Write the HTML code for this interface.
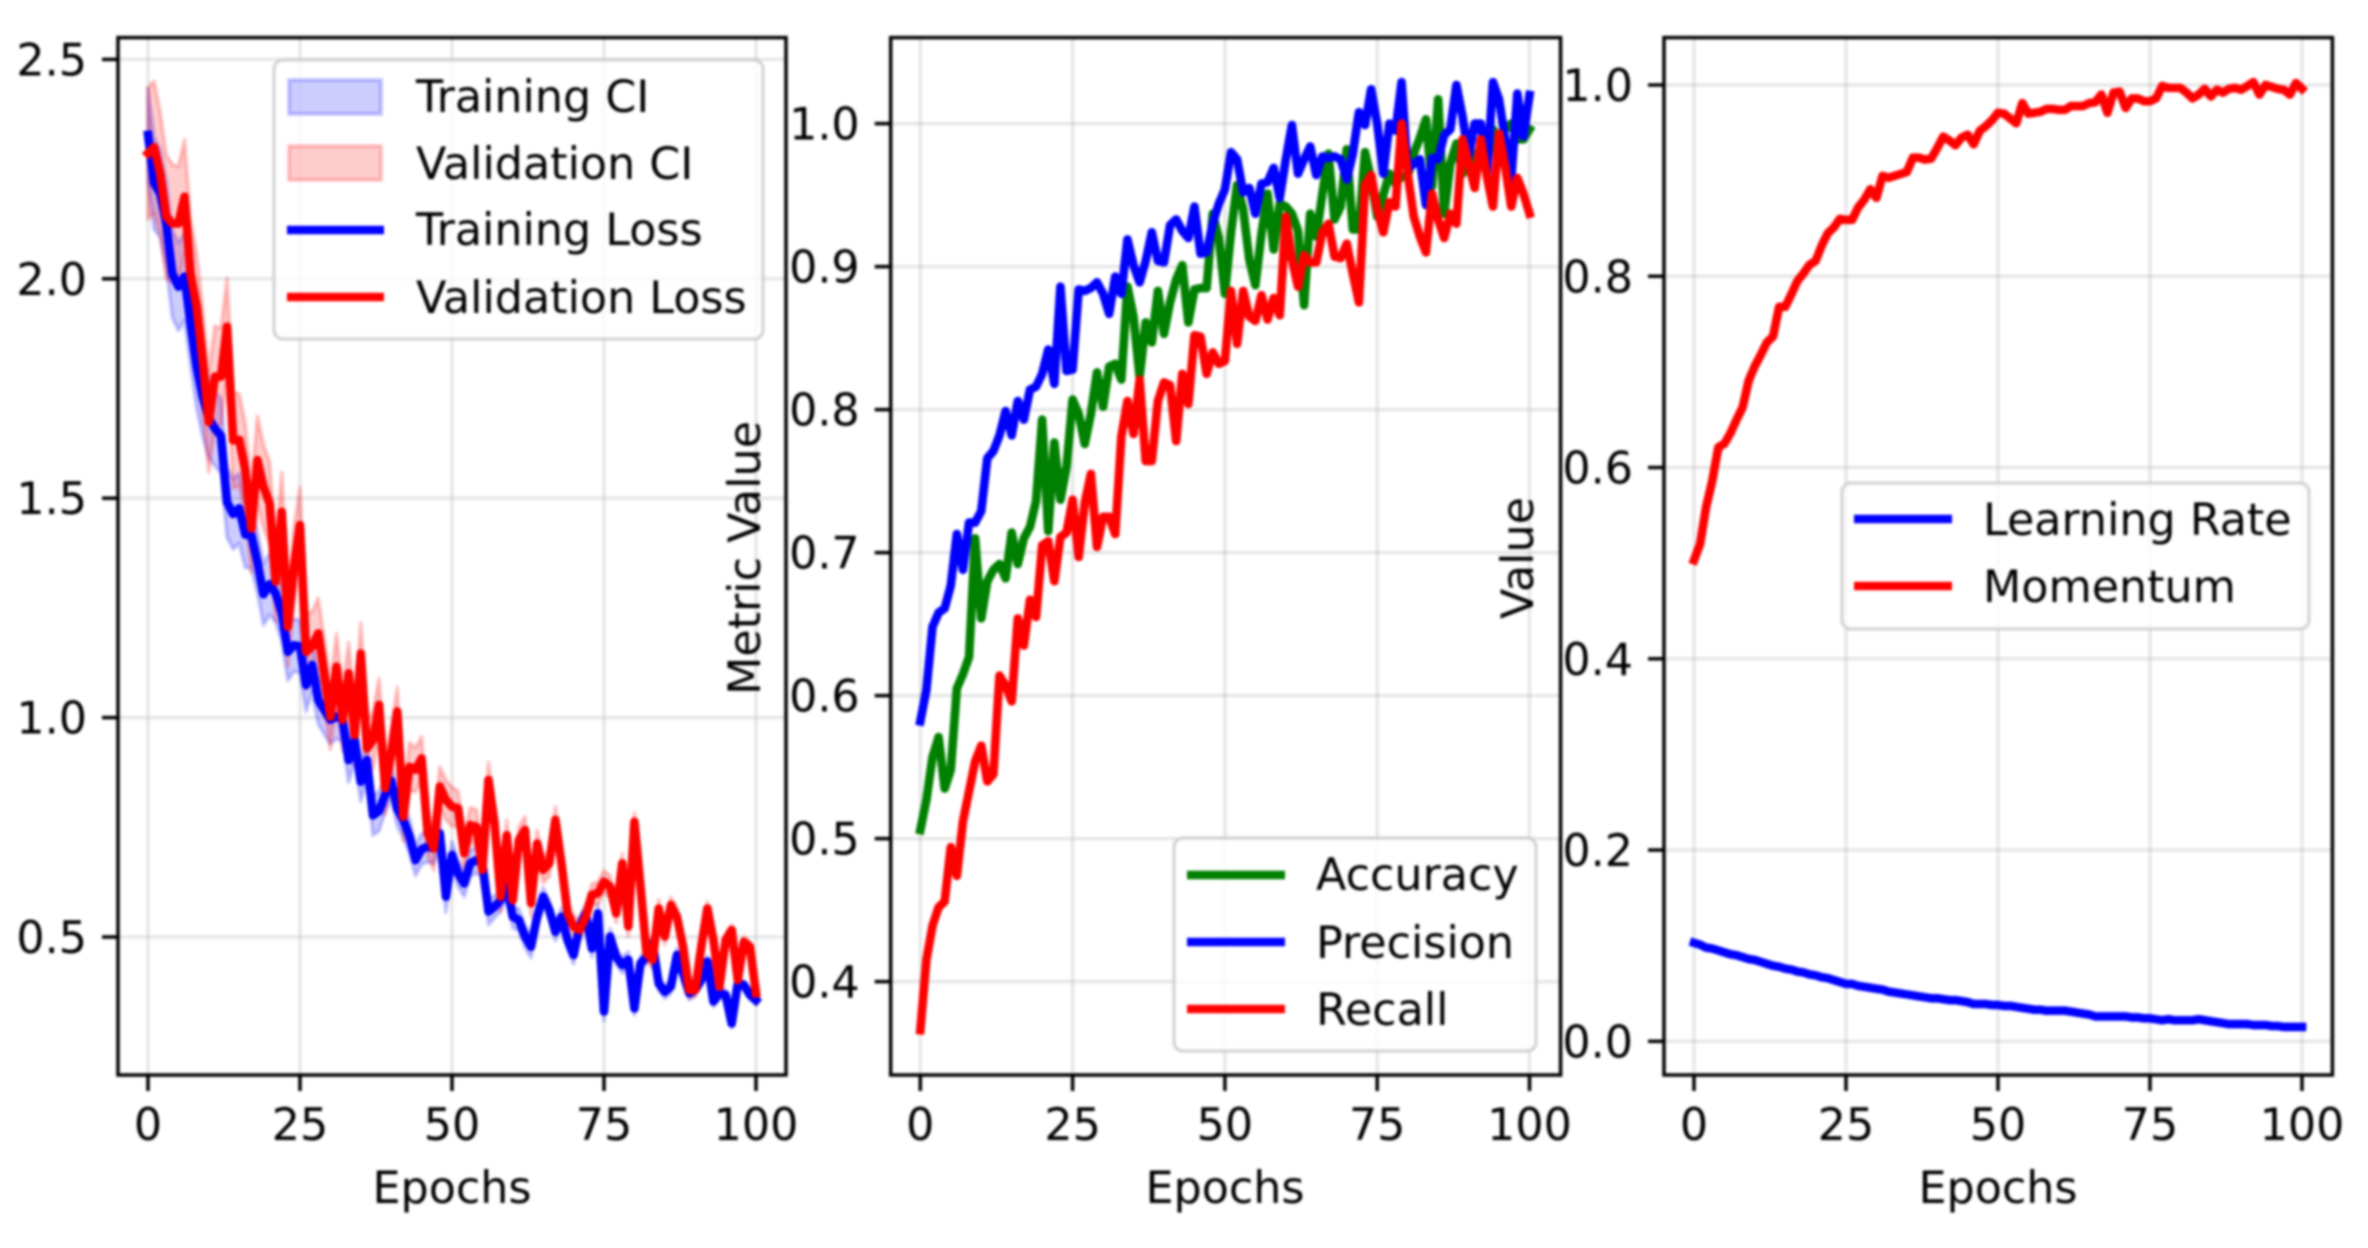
<!DOCTYPE html>
<html lang="en">
<head>
<meta charset="utf-8">
<title>Training metrics</title>
<style>
html,body{margin:0;padding:0;background:#fff;width:2368px;height:1248px;overflow:hidden}
svg{display:block;filter:blur(1.4px)}
text{font-family:"DejaVu Sans","Liberation Sans",sans-serif;font-size:44.4px;fill:#000}
.frame{fill:none;stroke:#000;stroke-width:3.5}
.legend-box{fill:#fff;fill-opacity:.8;stroke:#ccc;stroke-opacity:.8;stroke-width:3.5}
.key{stroke-width:8.6;fill:none}
</style>
</head>
<body>
<svg id="chart" xmlns="http://www.w3.org/2000/svg" width="2368" height="1248" viewBox="0 0 2368 1248">
  <rect width="2368" height="1248" fill="#fff"/>

  <g id="panel-loss"></g>
  <g id="panel-metrics"></g>
  <g id="panel-schedule"></g>

  <g>
    <rect class="legend-box" x="274" y="60" width="489" height="279" rx="9"/>
    <rect x="289" y="80" width="92" height="34" fill="#00f" fill-opacity=".2" stroke="#00f" stroke-opacity=".2" stroke-width="4"/>
    <text x="416" y="112">Training CI</text>
    <rect x="289" y="146" width="92" height="34" fill="#f00" fill-opacity=".2" stroke="#f00" stroke-opacity=".2" stroke-width="4"/>
    <text x="416" y="179">Validation CI</text>
    <line class="key" x1="287" y1="230" x2="384" y2="230" stroke="#00f"/>
    <text x="416" y="245">Training Loss</text>
    <line class="key" x1="287" y1="297" x2="384" y2="297" stroke="#f00"/>
    <text x="416" y="313">Validation Loss</text>
  </g>

  <g>
    <rect class="legend-box" x="1174" y="838" width="362" height="213" rx="9"/>
    <line class="key" x1="1187" y1="875" x2="1285" y2="875" stroke="#008000"/>
    <text x="1316" y="890">Accuracy</text>
    <line class="key" x1="1187" y1="942" x2="1285" y2="942" stroke="#00f"/>
    <text x="1316" y="958">Precision</text>
    <line class="key" x1="1187" y1="1009" x2="1285" y2="1009" stroke="#f00"/>
    <text x="1316" y="1025">Recall</text>
  </g>

  <g>
    <rect class="legend-box" x="1842" y="483" width="467" height="146" rx="9"/>
    <line class="key" x1="1854" y1="519" x2="1952" y2="519" stroke="#00f"/>
    <text x="1983" y="535">Learning Rate</text>
    <line class="key" x1="1854" y1="586" x2="1952" y2="586" stroke="#f00"/>
    <text x="1983" y="602">Momentum</text>
  </g>

  <text x="452" y="1203" text-anchor="middle">Epochs</text>
  <text x="1225" y="1203" text-anchor="middle">Epochs</text>
  <text x="1998" y="1203" text-anchor="middle">Epochs</text>
  <text transform="translate(760,558) rotate(-90)" text-anchor="middle">Metric Value</text>
  <text transform="translate(1533,558) rotate(-90)" text-anchor="middle">Value</text>
</svg>

<script>
const epochTicks = [0, 25, 50, 75, 100];
const lossTicks = [0.5, 1.0, 1.5, 2.0, 2.5];
const metricTicks = [0.4, 0.5, 0.6, 0.7, 0.8, 0.9, 1.0];
const scheduleTicks = [0.0, 0.2, 0.4, 0.6, 0.8, 1.0];

const trainLoss = [
2.328,2.218,2.195,2.126,2.012,1.982,2.005,1.898,1.800,1.73,
1.682,1.659,1.642,1.491,1.464,1.477,1.417,1.415,1.354,1.281,
1.304,1.283,1.238,1.150,1.165,1.162,1.074,1.120,1.040,1.017,
.995,1.002,.995,.903,.949,.854,.903,.777,.787,.825,
.856,.792,.766,.73,.675,.700,.706,.702,.736,.592,
.687,.645,.622,.668,.675,.668,.558,.569,.584,.615,
.546,.539,.501,.478,.546,.592,.562,.512,.546,.493,
.459,.524,.554,.474,.554,.330,.501,.455,.436,.448,
.337,.440,.455,.486,.394,.375,.387,.459,.417,.372,
.379,.402,.444,.353,.372,.368,.303,.394,.391,.368,.356];

const valLoss = [
2.286,2.300,2.240,2.142,2.126,2.126,2.187,2.012,1.937,1.815,
1.674,1.777,1.777,1.891,1.632,1.633,1.564,1.431,1.587,1.526,
1.488,1.310,1.469,1.207,1.344,1.439,1.150,1.162,1.192,1.101,
1.002,1.116,.995,1.101,.960,1.146,.930,.949,1.029,.839,
.919,1.014,.774,.888,.881,.907,.736,.702,.843,.812,
.797,.793,.691,.755,.751,.653,.858,.759,.592,.732,
.584,.721,.744,.577,.713,.653,.668,.767,.668,.554,
.524,.516,.546,.596,.600,.626,.615,.554,.668,.524,
.763,.615,.463,.448,.565,.501,.573,.546,.478,.379,
.379,.478,.565,.493,.387,.493,.516,.402,.489,.478,.372];

const trainCiHalf = [
.105,.105,.10,.10,.10,.10,.10,.095,.095,.09,
.09,.085,.085,.08,.08,.08,.075,.075,.07,.07,
.07,.065,.065,.065,.06,.06,.06,.06,.055,.055,
.055,.05,.05,.05,.05,.045,.045,.045,.045,.04,
.04,.04,.04,.04,.035,.035,.035,.035,.035,.035,
.03,.03,.03,.03,.03,.03,.03,.025,.025,.025,
.025,.025,.025,.025,.025,.02,.02,.02,.02,.02,
.02,.02,.02,.02,.02,.02,.018,.018,.018,.018,
.015,.015,.015,.015,.015,.015,.015,.015,.015,.015,
.012,.012,.012,.012,.012,.012,.01,.01,.01,.01,.01];

const valCiHalf = [
.15,.15,.14,.14,.135,.13,.13,.125,.12,.12,
.115,.115,.11,.11,.11,.105,.105,.10,.10,.095,
.095,.09,.09,.09,.09,.085,.085,.08,.08,.08,
.075,.075,.07,.07,.07,.07,.065,.065,.06,.06,
.06,.055,.055,.055,.05,.05,.05,.05,.045,.045,
.045,.04,.04,.04,.04,.04,.04,.035,.035,.035,
.035,.03,.03,.03,.03,.03,.03,.03,.025,.025,
.025,.025,.025,.025,.025,.025,.025,.022,.022,.022,
.02,.02,.02,.02,.02,.018,.018,.018,.018,.018,
.015,.015,.015,.015,.015,.012,.012,.012,.012,.01,.01];

const accuracy = [
.506,.527,.557,.571,.535,.548,.605,.615,.627,.710,
.654,.680,.688,.692,.682,.714,.692,.710,.718,.736,
.793,.715,.777,.737,.760,.807,.797,.776,.797,.826,
.802,.830,.832,.821,.886,.865,.823,.861,.847,.883,
.853,.875,.891,.901,.861,.884,.885,.885,.937,.920,
.881,.924,.957,.940,.905,.887,.923,.951,.912,.944,
.942,.937,.925,.873,.937,.921,.951,.979,.933,.942,
.982,.926,.926,.980,.961,.935,.950,.965,.958,.963,
.963,.979,.990,1.003,.956,1.017,.937,.972,.986,.965,
.975,.975,.984,.972,.996,.989,.996,1.0,.989,.989,.996];

const precision = [
.582,.604,.648,.658,.661,.677,.713,.688,.721,.721,
.729,.766,.771,.782,.799,.782,.806,.793,.814,.816,
.825,.842,.818,.886,.827,.828,.884,.883,.885,.889,
.881,.867,.893,.881,.919,.901,.889,.904,.924,.904,
.903,.929,.933,.925,.920,.942,.909,.910,.930,.944,
.954,.980,.975,.952,.955,.937,.958,.959,.969,.948,
.975,.999,.965,.975,.984,.964,.977,.976,.977,.975,
.961,.979,1.008,.999,1.024,1.0,.965,1.0,.995,1.029,
.968,.972,.975,.943,.976,.975,.992,.996,1.027,1.005,
.977,1.0,1.0,.965,1.029,1.017,.989,.961,1.021,.991,1.02];

const recall = [
.366,.415,.439,.452,.456,.494,.474,.512,.533,.554,
.565,.540,.545,.614,.607,.596,.654,.635,.667,.655,
.705,.708,.680,.711,.714,.737,.697,.735,.755,.704,
.725,.725,.713,.781,.806,.783,.821,.764,.764,.806,
.819,.817,.778,.825,.804,.852,.851,.825,.840,.832,
.834,.883,.846,.883,.865,.862,.880,.863,.878,.866,
.935,.905,.886,.908,.903,.903,.924,.930,.907,.906,
.916,.895,.875,.957,.964,.940,.924,.945,.942,1.0,
.965,.935,.921,.910,.951,.933,.920,.937,.930,.989,
.972,.955,.989,.963,.942,.993,.970,.942,.962,.951,.937];

const learningRate = [
.103,.101,.098,.097,.095,.093,.091,.090,.088,.086,
.085,.083,.081,.079,.078,.076,.075,.073,.072,.070,
.069,.067,.066,.064,.062,.060,.060,.058,.057,.056,
.055,.054,.052,.051,.050,.049,.048,.047,.046,.045,
.045,.044,.043,.043,.042,.041,.039,.039,.039,.038,
.038,.037,.037,.036,.035,.034,.033,.033,.032,.032,
.032,.032,.031,.030,.029,.028,.026,.026,.026,.026,
.026,.026,.025,.025,.024,.024,.023,.022,.023,.022,
.022,.022,.022,.023,.022,.021,.020,.019,.018,.018,
.018,.018,.017,.017,.017,.016,.016,.015,.015,.015,.015];

const momentum = [
.503,.52,.559,.586,.621,.625,.636,.650,.663,.691,
.706,.718,.731,.737,.768,.768,.781,.795,.803,.812,
.816,.832,.845,.851,.860,.859,.859,.872,.880,.891,
.882,.905,.903,.905,.907,.909,.924,.924,.922,.923,
.934,.946,.942,.937,.945,.948,.938,.952,.957,.963,
.971,.970,.965,.960,.981,.970,.971,.972,.975,.975,
.974,.974,.978,.978,.978,.981,.982,.990,.971,.992,
.993,.976,.986,.986,.983,.983,.986,.999,.997,.997,
.997,.992,.986,.990,.996,.988,.995,.992,.996,.997,
.995,.999,1.003,.990,1.0,.998,.996,.995,.990,1.002,.996];

const SVG_NS = 'http://www.w3.org/2000/svg';

function make(parent, tag, attrs) {
  const el = document.createElementNS(SVG_NS, tag);
  for (const key in attrs) el.setAttribute(key, attrs[key]);
  parent.appendChild(el);
  return el;
}

function linearScale(d0, d1, r0, r1) {
  return v => r0 + (v - d0) * (r1 - r0) / (d1 - d0);
}

function pathFrom(values, x, y) {
  return values.map((v, i) => (i ? 'L' : 'M') + x(i).toFixed(2) + ' ' + y(v).toFixed(2)).join('');
}

function drawAxes(root, box, x, y, yTicks, yDigits) {
  epochTicks.forEach(t => {
    const grid = make(root, 'line', {x1: x(t), x2: x(t), y1: box.top, y2: box.bottom, stroke: '#b0b0b0', 'stroke-opacity': .3, 'stroke-width': 3.5});
    
    
    const tick = make(root, 'line', {x1: x(t), x2: x(t), y1: box.bottom, y2: box.bottom + 16, stroke: '#000', 'stroke-width': 3.5});
    
    
    const label = make(root, 'text', {x: x(t), y: 1140, 'text-anchor': 'middle'});
    label.textContent = String(t);
    
    
  });
  yTicks.forEach(t => {
    const grid = make(root, 'line', {x1: box.left, x2: box.right, y1: y(t), y2: y(t), stroke: '#b0b0b0', 'stroke-opacity': .3, 'stroke-width': 3.5});
    
    
    const tick = make(root, 'line', {x1: box.left - 16, x2: box.left, y1: y(t), y2: y(t), stroke: '#000', 'stroke-width': 3.5});
    
    
    const label = make(root, 'text', {x: box.left - 31, y: y(t) + 16, 'text-anchor': 'end'});
    label.textContent = t.toFixed(yDigits);
    
    
  });
}

function drawBand(root, center, half, x, y, color, name) {
  const upper = center.map((v, i) => x(i).toFixed(2) + ',' + y(v + half[i]).toFixed(2));
  const lower = center.map((v, i) => x(i).toFixed(2) + ',' + y(v - half[i]).toFixed(2)).reverse();
  const band = make(root, 'polygon', {points: upper.concat(lower).join(' '), fill: color, 'fill-opacity': .2, stroke: color, 'stroke-opacity': .2, 'stroke-width': 4, 'stroke-linejoin': 'round'});
  
  
}

function drawLine(root, values, x, y, color, name) {
  const line = make(root, 'path', {d: pathFrom(values, x, y), fill: 'none', stroke: color, 'stroke-width': 8.6, 'stroke-linejoin': 'round', 'stroke-linecap': 'square'});
  
  
}

function drawFrame(box) {
  const svg = document.getElementById('chart');
  const frame = make(svg, 'rect', {class: 'frame', x: box.left, y: box.top, width: box.right - box.left, height: box.bottom - box.top});
  
  
}

/* Loss panel */
const lossBox = {left: 118, right: 786, top: 37.6, bottom: 1075};
const lossX = linearScale(0, 100, 148, 756);
const lossY = linearScale(0.5, 2.5, 937, 59.4);
const lossRoot = document.getElementById('panel-loss');
drawAxes(lossRoot, lossBox, lossX, lossY, lossTicks, 1);
drawBand(lossRoot, trainLoss, trainCiHalf, lossX, lossY, '#00f', 'training-ci-band');
drawBand(lossRoot, valLoss, valCiHalf, lossX, lossY, '#f00', 'validation-ci-band');
drawLine(lossRoot, trainLoss, lossX, lossY, '#00f', 'training-loss-line');
drawLine(lossRoot, valLoss, lossX, lossY, '#f00', 'validation-loss-line');

/* Metrics panel */
const metricsBox = {left: 890.7, right: 1560.6, top: 37.6, bottom: 1075};
const metricsX = linearScale(0, 100, 920.3, 1529.5);
const metricsY = linearScale(0.4, 1.0, 981.6, 123.6);
const metricsRoot = document.getElementById('panel-metrics');
drawAxes(metricsRoot, metricsBox, metricsX, metricsY, metricTicks, 1);
drawLine(metricsRoot, accuracy, metricsX, metricsY, '#008000', 'accuracy-line');
drawLine(metricsRoot, precision, metricsX, metricsY, '#00f', 'precision-line');
drawLine(metricsRoot, recall, metricsX, metricsY, '#f00', 'recall-line');

/* Schedule panel */
const scheduleBox = {left: 1664, right: 2332.4, top: 37.6, bottom: 1075};
const scheduleX = linearScale(0, 100, 1694, 2302);
const scheduleY = linearScale(0, 1, 1041.3, 85);
const scheduleRoot = document.getElementById('panel-schedule');
drawAxes(scheduleRoot, scheduleBox, scheduleX, scheduleY, scheduleTicks, 1);
drawLine(scheduleRoot, learningRate, scheduleX, scheduleY, '#00f', 'learning-rate-line');
drawLine(scheduleRoot, momentum, scheduleX, scheduleY, '#f00', 'momentum-line');

[lossBox, metricsBox, scheduleBox].forEach(drawFrame);
</script>
</body>
</html>
